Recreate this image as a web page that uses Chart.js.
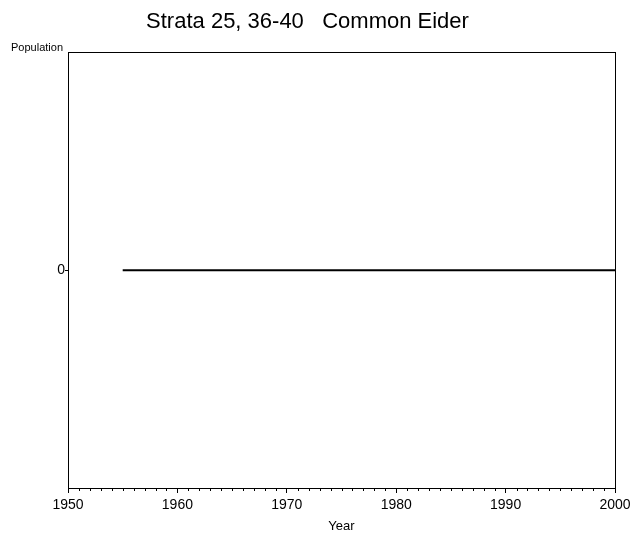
<!DOCTYPE html>
<html>
<head>
<meta charset="utf-8">
<script src="https://cdn.jsdelivr.net/npm/chart.js@4/dist/chart.umd.min.js"></script>
<style>
  html, body { margin: 0; padding: 0; background: #fff; }
  #wrap { width: 632px; height: 542px; }
</style>
</head>
<body>
<div id="wrap"><canvas id="eiderChart"></canvas></div>
<script>
// Datos
const years = [1955,1956,1957,1958,1959,1960,1961,1962,1963,1964,1965,1966,1967,1968,1969,
               1970,1971,1972,1973,1974,1975,1976,1977,1978,1979,1980,1981,1982,1983,1984,
               1985,1986,1987,1988,1989,1990,1991,1992,1993,1994,1995,1996,1997,1998,1999,2000];
const population = [0,0,0,0,0,0,0,0,0,0,0,0,0,0,0,
                    0,0,0,0,0,0,0,0,0,0,0,0,0,0,0,
                    0,0,0,0,0,0,0,0,0,0,0,0,0,0,0,0];
const xMajorTicks = [1950,1960,1970,1980,1990,2000];
const yTicks = [0];

const fontFam = "'Liberation Sans', Arial, sans-serif";

// marco, ticks menores y etiqueta "Population"
const extras = {
    id: 'extras',
    afterDraw(chart) {
        const ctx = chart.ctx;
        const a = chart.chartArea;
        const xs = chart.scales.x;
        ctx.save();
        ctx.strokeStyle = '#000';
        ctx.lineWidth = 1;
        ctx.strokeRect(Math.round(a.left) + 0.5, Math.round(a.top) + 0.5,
                       Math.round(a.right - a.left), Math.round(a.bottom - a.top));
        ctx.beginPath();
        for (let yr = xs.min; yr <= xs.max; yr++) {
            if (yr % 10 === 0) continue;
            const px = Math.round(xs.getPixelForValue(yr)) + 0.5;
            ctx.moveTo(px, a.bottom);
            ctx.lineTo(px, a.bottom + 3);
        }
        ctx.stroke();
        ctx.fillStyle = '#000';
        ctx.font = '11px ' + fontFam;
        ctx.textAlign = 'right';
        ctx.textBaseline = 'alphabetic';
        ctx.fillText('Population', a.left - 5, a.top - 1);
        ctx.restore();
    }
};

const ctxEider = document.getElementById('eiderChart').getContext('2d');
window.eiderChart = new Chart(ctxEider, {
    type: 'line',
    data: {
        datasets: [{
            label: 'Common Eider',
            data: years.map((y, i) => ({ x: y, y: population[i] })),
            borderColor: '#000',
            borderWidth: 2,
            pointRadius: 0,
            tension: 0
        }]
    },
    options: {
        responsive: true,
        maintainAspectRatio: false,
        animation: false,
        layout: { padding: { left: 0, right: 17, top: 0, bottom: 0 } },
        plugins: {
            legend: { display: false },
            tooltip: { enabled: false },
            title: {
                display: true,
                text: 'Strata 25, 36-40   Common Eider',
                color: '#000',
                font: { family: fontFam, size: 22, weight: 'normal' },
                padding: { top: 9, bottom: 17 }
            }
        },
        scales: {
            x: {
                type: 'linear',
                min: 1950,
                max: 2000,
                afterBuildTicks: s => { s.ticks = xMajorTicks.map(v => ({ value: v })); },
                afterFit: s => { s.height = 54; s.paddingLeft = 0; s.paddingRight = 0; },
                grid: { drawOnChartArea: false, tickLength: 5, color: '#000' },
                border: { display: false },
                ticks: {
                    color: '#000',
                    padding: 4,
                    maxRotation: 0,
                    font: { family: fontFam, size: 14 },
                    callback: v => String(v)
                },
                title: {
                    display: true,
                    text: 'Year',
                    color: '#000',
                    font: { family: fontFam, size: 13 },
                    padding: { top: 8, bottom: 8 }
                }
            },
            y: {
                min: -1,
                max: 1,
                afterBuildTicks: s => { s.ticks = yTicks.map(v => ({ value: v })); },
                afterFit: s => { s.width = 68; },
                grid: { drawOnChartArea: false, tickLength: 3, color: '#000' },
                border: { display: false },
                ticks: {
                    color: '#000',
                    padding: 0,
                    font: { family: fontFam, size: 14 }
                }
            }
        }
    },
    plugins: [extras]
});
</script>
</body>
</html>
